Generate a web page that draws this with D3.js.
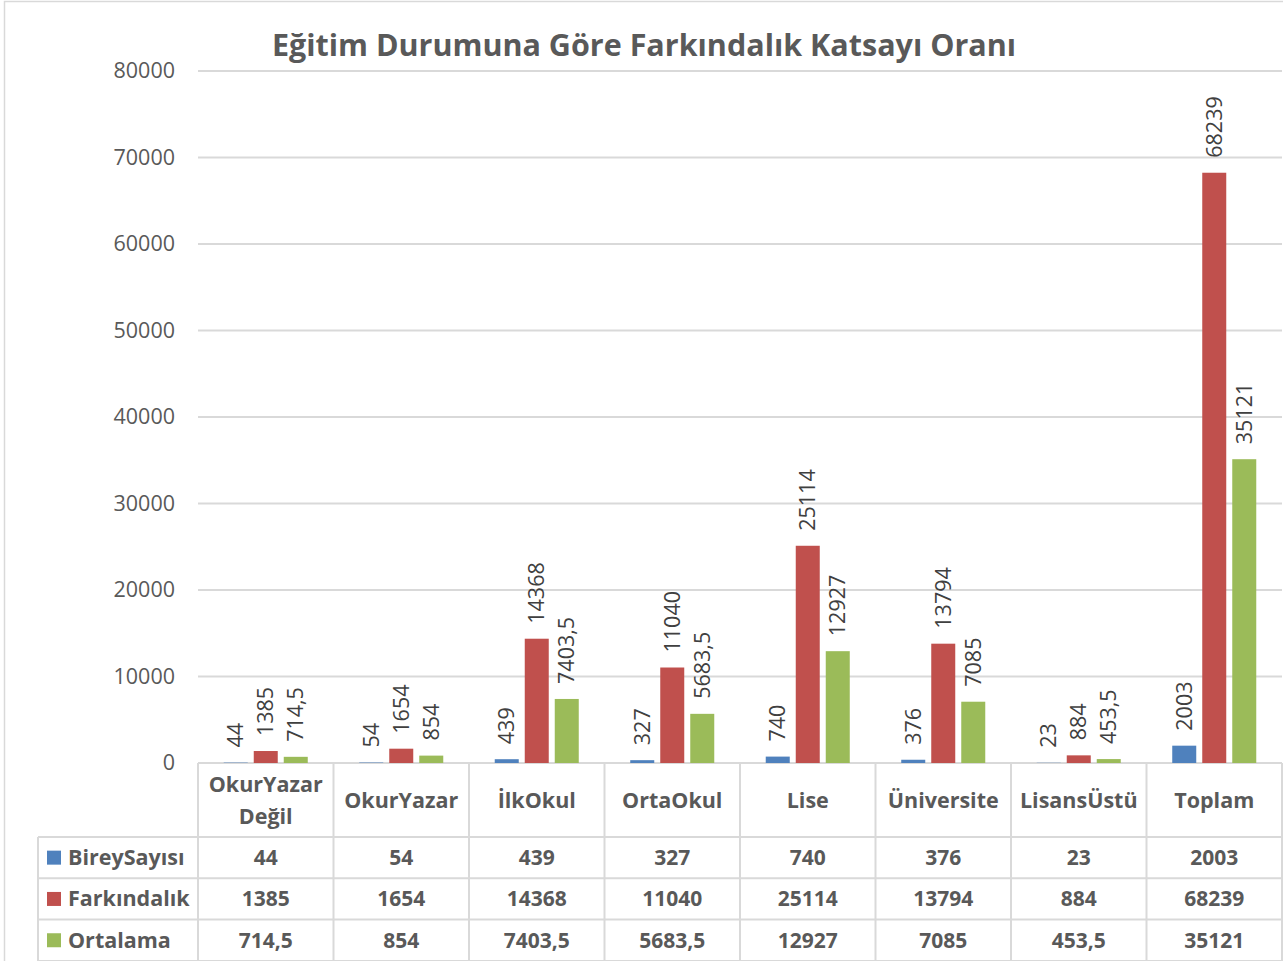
<!DOCTYPE html>
<html>
<head>
<meta charset="utf-8">
<script src="https://cdn.jsdelivr.net/npm/d3@7"></script>
<style>
  body { margin: 0; background: #fff; }
  svg { display: block; font-family: "Open Sans", sans-serif; }
</style>
</head>
<body>
<div id="chart-container"></div>
<script>
const categories = ["OkurYazar Değil", "OkurYazar", "İlkOkul", "OrtaOkul", "Lise", "Üniversite", "LisansÜstü", "Toplam"];
const seriesNames = ["BireySayısı", "Farkındalık", "Ortalama"];
const bireySayisi = [44, 54, 439, 327, 740, 376, 23, 2003];
const farkindalik = [1385, 1654, 14368, 11040, 25114, 13794, 884, 68239];
const ortalama = [714.5, 854, 7403.5, 5683.5, 12927, 7085, 453.5, 35121];
const yTicks = [0, 10000, 20000, 30000, 40000, 50000, 60000, 70000, 80000];
const colors = ["#4f81bd", "#c0504d", "#9bbb59"];

const seriesValues = [bireySayisi, farkindalik, ortalama];

const width = 1283;
const height = 961;
const plotLeft = 198, plotRight = 1282, plotTop = 71, plotBottom = 763;
const gridColor = "#d9d9d9";
const textColor = "#595959";

const fmt = v => String(v).replace(".", ",");

const svg = d3.select("#chart-container")
    .append("svg")
    .attr("width", width)
    .attr("height", height);

// outer border
svg.append("rect")
    .attr("x", 4.5).attr("y", 1.5)
    .attr("width", 1290).attr("height", 980)
    .attr("fill", "#fff")
    .attr("stroke", gridColor)
    .attr("stroke-width", 1.5);

svg.append("text")
    .attr("x", 644)
    .attr("y", 56)
    .attr("text-anchor", "middle")
    .attr("fill", textColor)
    .style("font-size", "30.5px")
    .style("font-weight", "bold")
    .text("Eğitim Durumuna Göre Farkındalık Katsayı Oranı");

const y = d3.scaleLinear()
    .domain([0, 80000])
    .range([plotBottom, plotTop]);

const x0 = d3.scaleBand()
    .domain(categories)
    .range([plotLeft, plotRight])
    .padding(0);

const x1 = d3.scaleBand()
    .domain(seriesNames)
    .range([0, x0.bandwidth()])
    .paddingInner(0.2)
    .paddingOuter(0.858);

// gridlines
svg.append("g")
    .selectAll("line")
    .data(yTicks)
    .enter()
    .append("line")
    .attr("x1", plotLeft)
    .attr("x2", plotRight)
    .attr("y1", d => y(d))
    .attr("y2", d => y(d))
    .attr("stroke", gridColor)
    .attr("stroke-width", 2);

// y axis labels
const yAxis = d3.axisLeft(y).tickValues(yTicks).tickSize(0).tickPadding(0).tickFormat(d3.format("d"));
const yAxisG = svg.append("g")
    .attr("transform", `translate(175,0)`)
    .call(yAxis);
yAxisG.select(".domain").remove();
yAxisG.selectAll("text")
    .attr("fill", textColor)
    .style("font-size", "21.5px")
    .style("font-family", "Open Sans, sans-serif");

// bars
const groups = svg.append("g")
    .selectAll("g")
    .data(categories)
    .enter()
    .append("g")
    .attr("transform", d => `translate(${x0(d)},0)`);

const cells = groups.selectAll("g")
    .data((c, ci) => seriesNames.map((s, si) => ({ series: s, si, value: seriesValues[si][ci] })))
    .enter()
    .append("g");

cells.append("rect")
    .attr("x", d => x1(d.series))
    .attr("width", x1.bandwidth())
    .attr("y", d => y(d.value))
    .attr("height", d => plotBottom - y(d.value))
    .attr("fill", d => colors[d.si]);

cells.append("text")
    .attr("transform", d => `translate(${x1(d.series) + x1.bandwidth() / 2},${y(d.value) - 15}) rotate(-90)`)
    .attr("dy", "0.35em")
    .attr("fill", "#404040")
    .style("font-size", "21.5px")
    .text(d => fmt(d.value));

// data table
const tableTop = plotBottom, headerBottom = 837, rowH = 41.3, tableLeft = 38;
const table = svg.append("g");

// header labels
categories.forEach(c => {
    const words = c.split(" ");
    const cx = x0(c) + x0.bandwidth() / 2;
    const t = table.append("text")
        .attr("x", cx)
        .attr("text-anchor", "middle")
        .attr("fill", textColor)
        .style("font-size", "21.5px")
        .style("font-weight", "bold");
    if (words.length === 1) {
        t.attr("y", 800).attr("dy", "0.35em").text(c);
    } else {
        words.forEach((w, i) => {
            t.append("tspan").attr("x", cx).attr("y", 784 + i * 32).attr("dy", "0.35em").text(w);
        });
    }
});

// horizontal lines
[0, 1, 2, 3].forEach(i => {
    table.append("line")
        .attr("x1", tableLeft).attr("x2", plotRight)
        .attr("y1", headerBottom + i * rowH).attr("y2", headerBottom + i * rowH)
        .attr("stroke", gridColor).attr("stroke-width", 2);
});

// vertical lines
x0.domain().forEach(c => {
    table.append("line")
        .attr("x1", x0(c)).attr("x2", x0(c))
        .attr("y1", tableTop).attr("y2", height)
        .attr("stroke", gridColor).attr("stroke-width", 2);
});
table.append("line")
    .attr("x1", plotRight).attr("x2", plotRight)
    .attr("y1", tableTop).attr("y2", height)
    .attr("stroke", gridColor).attr("stroke-width", 2);
table.append("line")
    .attr("x1", tableLeft).attr("x2", tableLeft)
    .attr("y1", headerBottom).attr("y2", height)
    .attr("stroke", gridColor).attr("stroke-width", 2);

// rows
seriesNames.forEach((s, si) => {
    const cy = headerBottom + si * rowH + rowH / 2;
    table.append("rect")
        .attr("x", 47).attr("y", cy - 7)
        .attr("width", 14).attr("height", 14)
        .attr("fill", colors[si]);
    table.append("text")
        .attr("x", 68).attr("y", cy)
        .attr("dy", "0.35em")
        .attr("fill", textColor)
        .style("font-size", "21.5px")
        .style("font-weight", "bold")
        .text(s);
    categories.forEach((c, ci) => {
        table.append("text")
            .attr("x", x0(c) + x0.bandwidth() / 2)
            .attr("y", cy)
            .attr("dy", "0.35em")
            .attr("text-anchor", "middle")
            .attr("fill", textColor)
            .style("font-size", "21px")
            .style("font-weight", "bold")
            .text(fmt(seriesValues[si][ci]));
    });
});
</script>
</body>
</html>
